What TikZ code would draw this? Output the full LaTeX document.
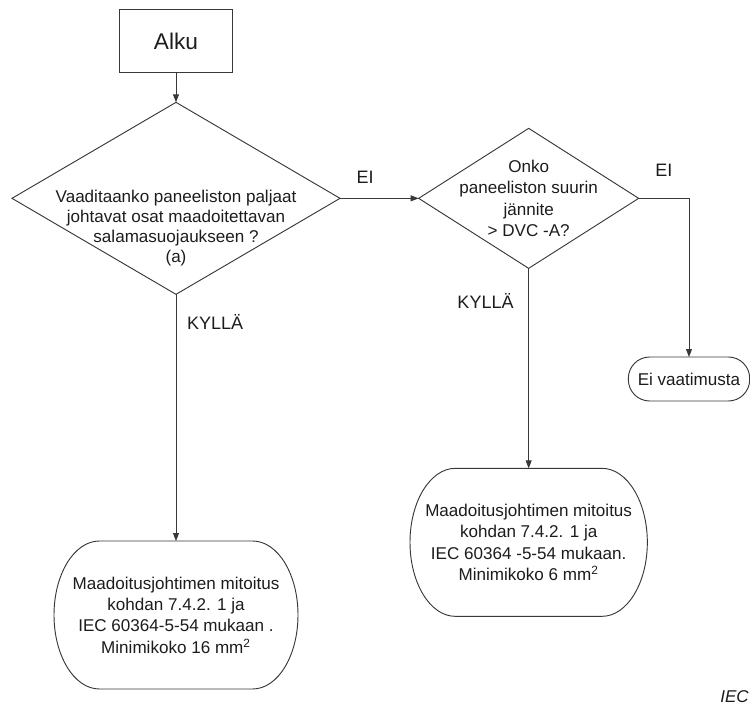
\documentclass[tikz,border=0pt]{standalone}
\usepackage{fontspec}
\setmainfont{Liberation Sans}
\usetikzlibrary{arrows.meta, positioning, shapes.geometric}
\definecolor{FlowLine}{HTML}{383838}
\definecolor{FlowText}{HTML}{1C1C1C}

\begin{document}
\begin{tikzpicture}[x=0.75pt, y=-0.75pt, >={Triangle[length=6pt, width=4.5pt]},
    flowtext/.style={font=\fontsize{12.8}{16}\selectfont, text=FlowText, align=center},
    flow/.style={->, draw=FlowLine, line width=0.7pt},
    lbl/.style={font=\fontsize{13.5}{16}\selectfont, text=FlowText, inner sep=0pt},
    decision/.style={diamond, draw=FlowLine, line width=0.7pt, inner sep=0pt,
                     outer sep=0pt},
    resultbox/.style={flowtext, rectangle, outer sep=0pt, minimum height=111pt}]
  \useasboundingbox (0,0) rectangle (750,706);

  \node[draw=FlowLine, line width=0.7pt, outer sep=0pt, minimum width=85pt,
        minimum height=47pt, font=\fontsize{17}{20}\selectfont, text=FlowText]
    (alku) at (176,41) {Alku};
  \node[decision, below=22.5pt of alku, minimum width=246pt, minimum height=144pt]
    (q1) {};
  \node[flowtext, font=\fontsize{12.8}{15}\selectfont] (q1text)
    at ([yshift=-22pt]q1.center)
    {Vaaditaanko paneeliston paljaat\\johtavat osat maadoitettavan\\
     salamasuojaukseen ?\\(a)};
  \node[decision, right=59pt of q1, minimum width=165pt, minimum height=105pt]
    (q2) {};
  \node[flowtext] (q2text) at (q2.center)
    {Onko\\paneeliston suurin\\jännite\\> DVC -A?};
  \node[flowtext, draw=FlowLine, line width=0.7pt, outer sep=0pt,
        rounded corners=16pt, minimum width=91pt, minimum height=33pt]
    (ei) at (689,379) {Ei vaatimusta};
  \node[resultbox, below=185pt of q1, minimum width=183pt] (box1)
    {Maadoitusjohtimen mitoitus\\kohdan 7.4.2. 1 ja\\IEC 60364-5-54 mukaan .\\
     Minimikoko 16 mm\textsuperscript{2}};
  \node[resultbox, below=150pt of q2, minimum width=178pt] (box2)
    {Maadoitusjohtimen mitoitus\\kohdan 7.4.2. 1 ja\\IEC 60364 -5-54 mukaan.\\
     Minimikoko 6 mm\textsuperscript{2}};
  \node[lbl, font=\fontsize{12.8}{16}\selectfont\itshape, anchor=base east]
    (iec) at (749,702) {IEC};

  % outlines of the two result boxes
  \foreach \b in {box1, box2}
    \draw[draw=FlowLine, line width=0.7pt]
      ([xshift=34pt]\b.north west) -- ([xshift=-34pt]\b.north east)
      arc[start angle=90, end angle=-90, x radius=34pt, y radius=55.5pt]
      -- ([xshift=34pt]\b.south west)
      arc[start angle=270, end angle=90, x radius=34pt, y radius=55.5pt] -- cycle;

  \draw[flow] (alku) -- (q1);
  \draw[flow] (q1) -- node[lbl, pos=0.32, above=11pt] (ei1) {EI} (q2);
  \draw[flow] (q1) -- node[lbl, pos=0.11, right=8pt] (kylla1) {KYLLÄ} (box1);
  \draw[flow] (q2) -| node[lbl, pos=0.25, above=16pt] (ei2) {EI} (ei);
  \draw[flow] (q2) -- node[lbl, pos=0.165, left=11pt] (kylla2) {KYLLÄ} (box2);
\end{tikzpicture}
\end{document}
